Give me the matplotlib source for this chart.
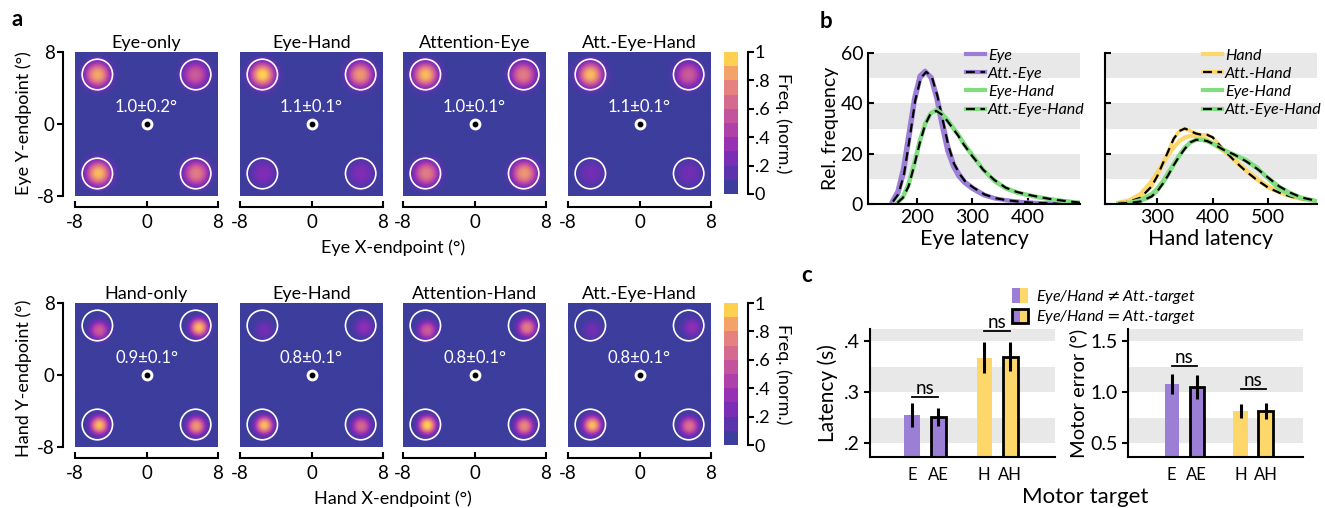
import matplotlib
matplotlib.use('Agg')
import matplotlib.pyplot as plt
import numpy as np
from matplotlib.colors import ListedColormap, LinearSegmentedColormap
from matplotlib.patches import Circle, Rectangle
from matplotlib.lines import Line2D
from matplotlib.legend_handler import HandlerTuple, HandlerBase

plt.rcParams['font.family'] = ['Lato', 'DejaVu Sans']
plt.rcParams['axes.unicode_minus'] = False
plt.rcParams['axes.linewidth'] = 1.5

# ---------------- data ----------------
# panel a: endpoint density per target (TL, TR, BL, BR)
target_x = [-5.5, 5.5, -5.5, 5.5]
target_y = [5.5, 5.5, -5.5, -5.5]
eye_titles = ['Eye-only', 'Eye-Hand', 'Attention-Eye', 'Att.-Eye-Hand']
hand_titles = ['Hand-only', 'Eye-Hand', 'Attention-Hand', 'Att.-Eye-Hand']
eye_peaks = [[0.9, 0.6, 0.95, 0.75],
             [1.0, 0.85, 0.25, 0.25],
             [0.95, 0.75, 0.75, 0.85],
             [0.95, 0.6, 0.2, 0.2]]
hand_peaks = [[0.6, 0.95, 0.95, 0.85],
              [0.2, 0.3, 0.95, 0.65],
              [0.6, 0.75, 1.0, 0.8],
              [0.2, 0.3, 0.95, 0.7]]
eye_shift_x = [0.0, 0.0, 0.1, 0.1]
eye_shift_y = [0.0, 0.0, 0.0, 0.0]
hand_shift_x = [0.2, 0.4, 0.2, 0.1]
hand_shift_y = [-0.5, -0.2, -0.1, -0.2]
eye_err_mean = [1.0, 1.1, 1.0, 1.1]
eye_err_sd = [0.2, 0.1, 0.1, 0.1]
hand_err_mean = [0.9, 0.8, 0.8, 0.8]
hand_err_sd = [0.1, 0.1, 0.1, 0.1]

# panel b: latency distributions (ms, rel. frequency)
eye_lat = [155, 165, 175, 185, 195, 205, 215, 225, 235, 245, 255, 265, 275, 285, 300, 320, 340, 360, 380, 400, 430, 460]
eye_freq = [1, 5, 14, 28, 42, 51, 53, 50, 42, 31, 21, 15, 11, 8.5, 6, 3.5, 2.2, 1.5, 1, 0.6, 0.3, 0.1]
att_eye_lat = [157, 167, 177, 187, 197, 207, 217, 227, 237, 247, 257, 267, 277, 287, 302, 322, 342, 362, 382, 402, 432, 462]
att_eye_freq = [1, 4, 12, 26, 41, 50, 52.5, 50.5, 43, 33, 23, 16, 12, 9, 6.5, 3.8, 2.3, 1.5, 1, 0.6, 0.3, 0.1]
eh_lat = [165, 175, 185, 195, 205, 215, 225, 235, 245, 255, 265, 275, 285, 300, 320, 340, 360, 380, 400, 420, 440, 460, 480, 495]
eh_eye_freq = [0.5, 3, 8, 16, 25, 32, 36, 37.5, 36, 33.5, 30.5, 27.5, 24, 19.5, 13.5, 9, 6.2, 4.5, 3.5, 2.6, 1.9, 1.3, 0.8, 0.5]
aeh_eye_freq = [0.5, 2.5, 7, 15, 24, 31.5, 36, 37, 35.5, 33, 30, 27, 23.5, 19, 13.5, 9.5, 6.5, 4.8, 3.7, 2.8, 2, 1.4, 0.9, 0.5]

hand_lat = [230, 250, 270, 290, 300, 310, 320, 330, 340, 350, 360, 370, 380, 390, 400, 420, 440, 460, 480, 500, 520, 540, 560, 590]
hand_freq = [0.5, 1.5, 4, 9, 12.5, 16, 19.5, 22.5, 25, 26.5, 27, 27, 26.5, 25.5, 24, 21, 17.5, 13.5, 10, 7, 4.8, 3.2, 2, 1]
att_hand_freq = [0.3, 1, 2.5, 7, 11, 16, 21, 26, 29, 30, 29, 28, 27.5, 27.5, 26.5, 21.5, 17, 13, 9.5, 6.5, 4.5, 3, 2, 1]
eh_hand_freq = [0.2, 0.5, 1.5, 4, 6, 9, 12.5, 16, 19.5, 22.5, 24.5, 25.5, 25.5, 25, 24, 21.5, 19.5, 17.5, 14.5, 10, 6, 3.8, 2.3, 1]
aeh_hand_freq = [0.2, 0.4, 1, 3, 5, 8, 11.5, 15.5, 19, 22, 24.5, 25.5, 25.5, 25, 24, 21.5, 19.5, 17, 14, 10.5, 7, 4.5, 2.6, 1.1]

# panel c: bar summaries
conds = ['E', 'AE', 'H', 'AH']
cond_pos = [0, 1, 2.75, 3.75]
lat_mean = [0.255, 0.252, 0.368, 0.370]
lat_sem = [0.023, 0.018, 0.031, 0.028]
merr_mean = [1.08, 1.05, 0.815, 0.815]
merr_sem = [0.10, 0.12, 0.07, 0.08]

purple = '#9b7fd6'
yellow = '#fdd76a'
green = '#80dd80'
band = '#e8e8e8'
heat_colors = ['#3d3d9d', '#5b33ad', '#7a2db5', '#9631b2', '#ae40aa',
               '#c3539d', '#d56a8f', '#e5827f', '#f3a26a', '#fdd050']

W, H = 1325, 508
fig = plt.figure(figsize=(W / 100, H / 100), dpi=100)


def box(x0, y0, x1, y1):
    return [x0 / W, 1 - y1 / H, (x1 - x0) / W, (y1 - y0) / H]


def ftext(x, y, s, **kw):
    fig.text(x / W, 1 - y / H, s, **kw)


# ===== a: endpoint heatmaps =====
heat_cmap = LinearSegmentedColormap.from_list('heat', heat_colors)
bar_cmap = ListedColormap(heat_colors)
grid = np.linspace(-8, 8, 241)
GX, GY = np.meshgrid(grid, grid)


def density(peaks, sigma, sx, sy):
    z = np.zeros_like(GX)
    for p, tx, ty, dx, dy in zip(peaks, target_x, target_y, sx, sy):
        r2 = ((GX - tx - dx) ** 2 + (GY - ty - dy) ** 2) / (2 * sigma ** 2)
        z += p * np.exp(-r2 ** 1.3)
    return z


col_x = [75, 240, 403, 568]
rows = [(52, 196, eye_titles, eye_peaks, 1.0, eye_shift_x, eye_shift_y, eye_err_mean, eye_err_sd),
        (303, 447, hand_titles, hand_peaks, 0.72, hand_shift_x, hand_shift_y, hand_err_mean, hand_err_sd)]

for top, bot, titles, peaks, sigma, sx, sy, em, es in rows:
    for i, x0 in enumerate(col_x):
        ax = fig.add_axes(box(x0, top, x0 + 143, bot))
        ax.imshow(density(peaks[i], sigma, sx, sy), cmap=heat_cmap, vmin=0, vmax=1,
                  extent=[-8, 8, -8, 8], origin='lower', aspect='auto')
        for tx, ty in zip(target_x, target_y):
            ax.add_patch(Circle((tx, ty), 1.7, fill=False, ec='white', lw=1.2))
        ax.plot(0, 0, 'o', ms=7.5, color='white')
        ax.plot(0, 0, 'o', ms=3.2, color='black')
        ax.text(0, 1.9, f'{em[i]:.1f}±{es[i]:.1f}°', color='white', fontsize=12,
                ha='center', va='center')
        ax.set_xlim(-8, 8)
        ax.set_ylim(-8, 8)
        ax.set_title(titles[i], fontsize=13, pad=3)
        ax.spines['top'].set_visible(False)
        ax.spines['right'].set_visible(False)
        ax.spines['bottom'].set_position(('outward', 8))
        ax.set_xticks([-8, 0, 8])
        ax.set_xticklabels(['-8', '0', '8'])
        ax.tick_params(axis='x', direction='in', length=4, width=1.5, labelsize=13.5, pad=5)
        if i == 0:
            ax.spines['left'].set_position(('outward', 8.6))
            ax.set_yticks([-8, 0, 8])
            ax.set_yticklabels(['-8', '0', '8'])
            ax.tick_params(axis='y', direction='out', length=4, width=1.5, labelsize=13.5, pad=2)
        else:
            ax.spines['left'].set_visible(False)
            ax.set_yticks([])

    cax = fig.add_axes(box(724, top, 738, bot - 2))
    cax.imshow(np.arange(10).reshape(-1, 1), cmap=bar_cmap, origin='lower',
               extent=[0, 1, 0, 1], aspect='auto')
    for s in ['top', 'left', 'bottom']:
        cax.spines[s].set_visible(False)
    cax.spines['right'].set_position(('outward', 7))
    cax.set_xticks([])
    cax.yaxis.tick_right()
    cax.set_yticks([0, 0.2, 0.4, 0.6, 0.8, 1])
    cax.set_yticklabels(['0', '.2', '.4', '.6', '.8', '1'])
    cax.tick_params(axis='y', direction='out', length=4, width=1.5, labelsize=13, pad=1)
    cax.yaxis.set_label_position('right')
    cax.set_ylabel('Freq. (norm.)', rotation=270, fontsize=13, labelpad=16)

ftext(393, 248, 'Eye X-endpoint (°)', ha='center', va='center', fontsize=13)
ftext(393, 499, 'Hand X-endpoint (°)', ha='center', va='center', fontsize=13)
ftext(24, 123, 'Eye Y-endpoint (°)', ha='center', va='center', fontsize=13, rotation=90)
ftext(24, 378, 'Hand Y-endpoint (°)', ha='center', va='center', fontsize=13, rotation=90)

# ===== b: latency distributions =====
dash = (4, 2.5)


def style_b(ax):
    for lo in [10, 30, 50]:
        ax.axhspan(lo, lo + 10, color=band, lw=0, zorder=0)
    ax.set_ylim(0, 60)
    ax.set_yticks([0, 20, 40, 60])
    ax.spines['top'].set_visible(False)
    ax.spines['right'].set_visible(False)
    ax.tick_params(direction='in', length=4, width=1.5, labelsize=14)


axb1 = fig.add_axes(box(868, 53, 1080, 204))
style_b(axb1)
axb1.plot(eye_lat, eye_freq, color=purple, lw=3)
axb1.plot(att_eye_lat, att_eye_freq, color=purple, lw=2.5)
axb1.plot(att_eye_lat, att_eye_freq, color='black', lw=1.6, dashes=dash)
axb1.plot(eh_lat, eh_eye_freq, color=green, lw=3)
axb1.plot(eh_lat, aeh_eye_freq, color=green, lw=2.5)
axb1.plot(eh_lat, aeh_eye_freq, color='black', lw=1.6, dashes=dash)
axb1.set_xlim(112, 494)
axb1.set_xticks([200, 300, 400])
axb1.set_xlabel('Eye latency', fontsize=15.5, labelpad=2)
axb1.set_ylabel('Rel. frequency', fontsize=14, labelpad=1)

axb2 = fig.add_axes(box(1105, 53, 1317, 204))
style_b(axb2)
axb2.plot(hand_lat, hand_freq, color=yellow, lw=3)
axb2.plot(hand_lat, att_hand_freq, color=yellow, lw=2.5)
axb2.plot(hand_lat, att_hand_freq, color='black', lw=1.6, dashes=dash)
axb2.plot(hand_lat, eh_hand_freq, color=green, lw=3)
axb2.plot(hand_lat, aeh_hand_freq, color=green, lw=2.5)
axb2.plot(hand_lat, aeh_hand_freq, color='black', lw=1.6, dashes=dash)
axb2.set_xlim(206, 588)
axb2.set_xticks([300, 400, 500])
axb2.set_yticklabels([])
axb2.set_xlabel('Hand latency', fontsize=15.5, labelpad=2)


def lat_legend(ax, col, names):
    solid_a = Line2D([], [], color=col, lw=3)
    dash_a = (Line2D([], [], color=col, lw=3), Line2D([], [], color='black', lw=1.6, dashes=dash))
    solid_g = Line2D([], [], color=green, lw=3)
    dash_g = (Line2D([], [], color=green, lw=3), Line2D([], [], color='black', lw=1.6, dashes=dash))
    leg = ax.legend([solid_a, dash_a, solid_g, dash_g], names,
                    handler_map={tuple: HandlerTuple(ndivide=1)},
                    loc='upper left', bbox_to_anchor=(0.46, 1.03), frameon=False,
                    fontsize=11.5, handlelength=1.2, handletextpad=0.2,
                    labelspacing=0.25, borderpad=0, borderaxespad=0)
    for t in leg.get_texts():
        t.set_fontstyle('italic')


lat_legend(axb1, purple, ['Eye', 'Att.-Eye', 'Eye-Hand', 'Att.-Eye-Hand'])
lat_legend(axb2, yellow, ['Hand', 'Att.-Hand', 'Eye-Hand', 'Att.-Eye-Hand'])

# ===== c: bar summaries =====
bar_fc = [purple, purple, yellow, yellow]
bar_ec = ['none', 'black', 'none', 'black']


def bars_c(ax, means, sems, ylim, bands, yticks, ytl, ns_y, ns_pairs):
    for lo, hi in bands:
        ax.axhspan(lo, hi, color=band, lw=0, zorder=0)
    ax.bar(cond_pos, means, width=0.58, color=bar_fc, edgecolor=bar_ec, linewidth=2, zorder=2)
    ax.errorbar(cond_pos, means, yerr=sems, fmt='none', ecolor='black', elinewidth=2.2,
                capsize=0, zorder=3)
    for y, (a, b) in zip(ns_y, ns_pairs):
        ax.plot([cond_pos[a], cond_pos[b]], [y, y], color='black', lw=1.3)
        ax.text((cond_pos[a] + cond_pos[b]) / 2, y, 'ns', ha='center', va='bottom', fontsize=13.5)
    ax.set_ylim(*ylim)
    ax.set_yticks(yticks)
    ax.set_yticklabels(ytl)
    ax.set_xticks(cond_pos)
    ax.set_xticklabels(conds)
    ax.spines['top'].set_visible(False)
    ax.spines['right'].set_visible(False)
    ax.tick_params(axis='y', direction='out', length=4, width=1.5, labelsize=14)
    ax.tick_params(axis='x', length=0, labelsize=12, pad=7)


axc1 = fig.add_axes(box(870, 329, 1055, 457))
bars_c(axc1, lat_mean, lat_sem, (0.173, 0.424), [(0.2, 0.25), (0.3, 0.35), (0.4, 0.45)],
       [0.2, 0.3, 0.4], ['.2', '.3', '.4'], [0.29, 0.42], [(0, 1), (2, 3)])
axc1.set_xlim(-1.6, 5.45)
axc1.set_ylabel('Latency (s)', fontsize=15, labelpad=4)

axc2 = fig.add_axes(box(1128, 329, 1303, 457))
bars_c(axc2, merr_mean, merr_sem, (0.363, 1.618), [(0.5, 0.75), (1.0, 1.25), (1.5, 1.75)],
       [0.5, 1.0, 1.5], ['0.5', '1.0', '1.5'], [1.26, 1.025], [(0, 1), (2, 3)])
axc2.set_xlim(-1.75, 5.25)
axc2.set_ylabel('Motor error (°)', fontsize=14.5, labelpad=2)

ftext(1085, 497, 'Motor target', ha='center', va='center', fontsize=16)


class SplitSquare(HandlerBase):
    def __init__(self, edge):
        super().__init__()
        self.edge = edge

    def create_artists(self, legend, orig_handle, xdescent, ydescent, width, height, fontsize, trans):
        x0, y0 = -xdescent, -ydescent
        arts = [Rectangle((x0, y0), width / 2, height, fc=purple, ec='none', transform=trans),
                Rectangle((x0 + width / 2, y0), width / 2, height, fc=yellow, ec='none', transform=trans)]
        if self.edge:
            arts.append(Rectangle((x0, y0), width, height, fc='none', ec='black', lw=2, transform=trans))
        return arts


h_ne = Rectangle((0, 0), 1, 1)
h_eq = Rectangle((0, 0), 1, 1)
legc = fig.legend([h_ne, h_eq], ['Eye/Hand$\\neq$Att.-target', 'Eye/Hand$=$Att.-target'],
                  handler_map={h_ne: SplitSquare(False), h_eq: SplitSquare(True)},
                  loc='upper left', bbox_to_anchor=(1012 / W, 1 - 288 / H), frameon=False,
                  fontsize=11.5, handlelength=1.0, handleheight=1.0, handletextpad=0.5,
                  labelspacing=0.15, borderpad=0, borderaxespad=0)
for t in legc.get_texts():
    t.set_fontstyle('italic')

# panel letters
ftext(17, 20, 'a', ha='center', va='center', fontsize=16, fontweight='bold')
ftext(826, 22, 'b', ha='center', va='center', fontsize=16, fontweight='bold')
ftext(807, 275, 'c', ha='center', va='center', fontsize=16, fontweight='bold')

fig.savefig('out.png', dpi=100)
